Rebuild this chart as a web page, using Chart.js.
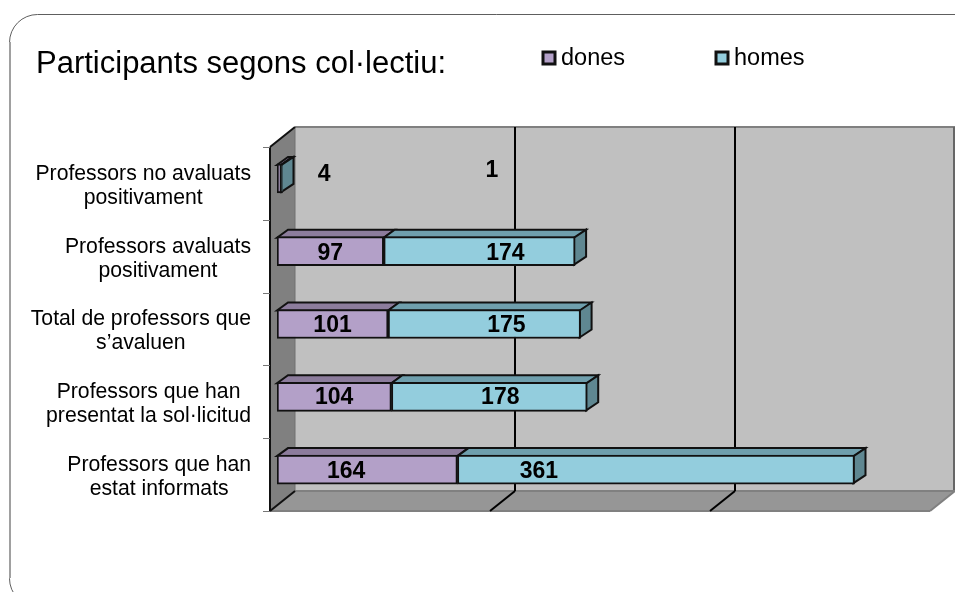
<!DOCTYPE html>
<html><head><meta charset="utf-8">
<style>html,body{margin:0;padding:0;background:#fff}#w{position:relative;width:955px;height:592px;overflow:hidden}canvas{display:block}</style>
<script src="https://cdn.jsdelivr.net/npm/chart.js@4"></script>
</head><body><div id="w"><canvas id="c" width="955" height="592"></canvas></div>
<script>
const chartTitle = "Participants segons col·lectiu:";
const categories = [
  ["Professors no avaluats","positivament"],
  ["Professors avaluats","positivament"],
  ["Total de professors que","s’avaluen"],
  ["Professors que han","presentat la sol·licitud"],
  ["Professors que han","estat informats"]
];
const dones = [4, 97, 101, 104, 164];
const homes = [1, 174, 175, 178, 361];
const seriesNames = ["dones", "homes"];
const xTicks = [0, 200, 400, 600];

const FONT = '"Liberation Sans", Arial, sans-serif';
const colors = {
  dones:{front:'#B3A0C8',top:'#8C7C9C',side:'#7D6F8C'},
  homes:{front:'#93CDDD',top:'#6F9FAD',side:'#5F8791'}
};
const faces = [colors.dones, colors.homes];
// label nudges (px) from each segment centre, as placed in the reference
const labelNudge = [
  [[45,-4],[0,2],[0,2],[0,1],[-21,2]],
  [[210,-8],[26,2],[22,2],[11,1],[-117,2]]
];
const D = {frontX:-7, frontY:5, backX:18, backY:-15, barDX:11, barDY:-8};

function poly(ctx, pts, fill, stroke, lw){
  ctx.beginPath();
  pts.forEach((p,i)=> i?ctx.lineTo(p[0],p[1]):ctx.moveTo(p[0],p[1]));
  ctx.closePath();
  if(fill){ctx.fillStyle=fill;ctx.fill();}
  if(stroke){ctx.strokeStyle=stroke;ctx.lineWidth=lw||1;ctx.stroke();}
}
function line(ctx,x1,y1,x2,y2,c,lw){
  ctx.beginPath();ctx.moveTo(x1,y1);ctx.lineTo(x2,y2);ctx.strokeStyle=c;ctx.lineWidth=lw;ctx.stroke();
}
const scene = {
  id:'scene',
  beforeDatasetsDraw(chart){
    const {ctx, chartArea:a, scales:{x,y}} = chart;
    ctx.save();
    // outer rounded frame
    ctx.beginPath();
    ctx.roundRect(9.5,14.5,1000,592,28);
    ctx.strokeStyle='#5e5e5e';ctx.lineWidth=1;ctx.stroke();
    line(ctx,10,42,10,578,'#a0a0a0',2);

    const fl=a.left+D.frontX, fr=a.right+D.frontX, ft=a.top+D.frontY, fb=a.bottom+D.frontY;
    const bl=a.left+D.backX, br=a.right+D.backX, bt=a.top+D.backY, bb=a.bottom+D.backY;
    // back wall
    poly(ctx,[[bl,bt],[br,bt],[br,bb],[bl,bb]],'#C0C0C0');
    line(ctx,bl,bt,br,bt,'#808080',2);
    line(ctx,br-1,bt,br-1,bb,'#666666',2);
    // floor
    poly(ctx,[[bl,bb],[br,bb],[fr,fb],[fl,fb]],'#969696');
    line(ctx,bl,bb,br,bb,'#808080',2);
    line(ctx,fl,fb,fr,fb,'#808080',2);
    line(ctx,fr,fb,br,bb,'#808080',2);
    // side wall
    poly(ctx,[[fl,ft],[bl,bt],[bl,bb],[fl,fb]],'#808080');
    line(ctx,bl,bt,bl,bb,'#707070',1);
    line(ctx,fl,ft,bl,bt,'#111',2);
    line(ctx,fl,ft,fl,fb,'#111',2);
    line(ctx,fl,fb,bl,bb,'#111',2);
    // gridlines
    xTicks.slice(1,-1).forEach(v=>{
      const p=x.getPixelForValue(v);
      line(ctx,p+D.backX,bt,p+D.backX,bb,'#000',2);
      line(ctx,p+D.backX,bb,p+D.frontX,fb,'#000',2);
    });
    // category tick marks
    const step=(a.bottom-a.top)/categories.length;
    for(let i=0;i<=categories.length;i++){
      const t=Math.round(a.top+i*step+D.frontY)+0.5;
      line(ctx,fl-7,t,fl,t,'#777',1);
    }
    // 3D faces of bars
    chart.data.datasets.forEach((ds,di)=>{
      chart.getDatasetMeta(di).data.forEach(b=>{
        const t=b.y-b.height/2+1,l=b.base,r=b.x,dx=D.barDX,dy=D.barDY;
        poly(ctx,[[l,t],[r,t],[r+dx,t+dy],[l+dx,t+dy]],faces[di].top,'#111',2);
      });
    });
    chart.data.datasets.forEach((ds,di)=>{
      chart.getDatasetMeta(di).data.forEach(b=>{
        const t=b.y-b.height/2+1,bo=b.y+b.height/2-1,r=b.x-1,dx=D.barDX+1,dy=D.barDY;
        if(di===1) poly(ctx,[[r,t],[r+dx,t+dy],[r+dx,bo+dy],[r,bo]],faces[di].side,'#111',2);
      });
    });
    ctx.restore();
  },
  afterDatasetsDraw(chart){
    const {ctx, scales:{y}} = chart;
    ctx.save();
    // data labels
    ctx.font='bold 23px '+FONT;ctx.fillStyle='#000';ctx.textAlign='center';ctx.textBaseline='middle';
    chart.data.datasets.forEach((ds,di)=>{
      chart.getDatasetMeta(di).data.forEach((b,i)=>{
        const n=labelNudge[di][i];
        ctx.fillText(String(ds.data[i]),(b.base+b.x)/2+n[0],b.y+n[1]);
      });
    });
    // category labels, each line centred on the block's own width
    ctx.font='21.2px '+FONT;
    categories.forEach((lines,i)=>{
      const cy=y.getPixelForTick(i)+7.5;
      const w=Math.max(...lines.map(s=>ctx.measureText(s).width));
      const cx=251-w/2;
      lines.forEach((s,j)=>ctx.fillText(s,cx,cy+(j-(lines.length-1)/2)*24));
    });
    // title
    ctx.font='31px '+FONT;ctx.textAlign='left';ctx.textBaseline='alphabetic';
    ctx.fillText(chartTitle,36,73);
    // legend
    ctx.textBaseline='middle';
    const lx=[542,715];
    seriesNames.forEach((s,i)=>{
      ctx.fillStyle=faces[i].front;ctx.strokeStyle='#111';ctx.lineWidth=3;
      ctx.fillRect(lx[i]+1,52,12,12);ctx.strokeRect(lx[i]+1,52,12,12);
      ctx.fillStyle='#000';ctx.font='23.5px '+FONT;
      ctx.fillText(s,lx[i]+19,59);
    });
    ctx.restore();
  }
};
new Chart(document.getElementById('c'),{
  type:'bar',
  data:{
    labels:categories,
    datasets:[
      {label:seriesNames[0],data:dones,backgroundColor:colors.dones.front,borderColor:'#111',borderWidth:2,borderSkipped:false,barThickness:29},
      {label:seriesNames[1],data:homes,backgroundColor:colors.homes.front,borderColor:'#111',borderWidth:2,borderSkipped:false,barThickness:29}
    ]
  },
  options:{
    indexAxis:'y',responsive:false,animation:false,
    layout:{padding:{left:277,right:18,top:142,bottom:86}},
    plugins:{legend:{display:false},title:{display:false},tooltip:{enabled:false}},
    scales:{
      x:{stacked:true,min:0,max:600,afterBuildTicks:s=>{s.ticks=xTicks.map(v=>({value:v}));},
         grid:{display:false},border:{display:false},ticks:{display:false},afterFit:s=>{s.height=0;}},
      y:{stacked:true,grid:{display:false},border:{display:false},ticks:{display:false},afterFit:s=>{s.width=0;}}
    }
  },
  plugins:[scene]
});
</script></body></html>
